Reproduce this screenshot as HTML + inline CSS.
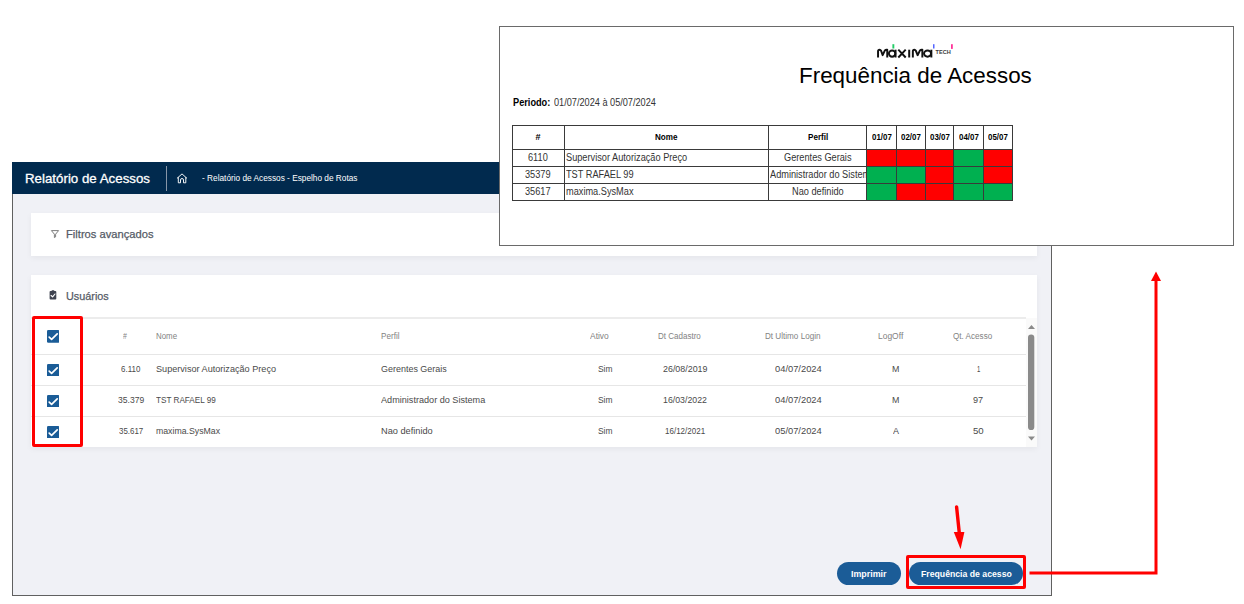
<!DOCTYPE html>
<html><head><meta charset="utf-8"><style>
html,body{margin:0;padding:0;}
body{width:1244px;height:604px;position:relative;overflow:hidden;background:#fff;font-family:"Liberation Sans",sans-serif;}
.t{position:absolute;white-space:nowrap;line-height:1;transform-origin:0 0;}
.b{position:absolute;box-sizing:border-box;}
</style></head><body>
<div class="b" style="left:12px;top:162px;width:1040px;height:434px;background:#f0f1f6;border:1px solid #606060;border-top:none;"></div>
<div class="b" style="left:12px;top:162px;width:1040px;height:32px;background:#012a4e;"></div>
<span class="t" style="left:25.00px;top:170.60px;font-size:14px;color:#fff;transform:scale(0.9505,0.9400);transform-origin:0 12px;-webkit-text-stroke:0.3px #fff;">Relatório de Acessos</span>
<div class="b" style="left:166px;top:166px;width:1px;height:25px;background:#8796a8;"></div>
<svg style="position:absolute;left:176px;top:172px" width="12" height="12" viewBox="0 0 12 12"><path d="M1 6.4 L6 1.9 L11 6.4 M2.3 5.2 V10.8 H4.5 V8 A1.5 1.5 0 0 1 7.5 8 V10.8 H9.8 V5.2" fill="none" stroke="#fff" stroke-width="0.95" stroke-linejoin="round"/></svg>
<span class="t" style="left:201.60px;top:173.90px;font-size:9px;color:#fff;transform:scaleX(0.9196);">- Relatório de Acessos - Espelho de Rotas</span>
<div class="b" style="left:31px;top:213px;width:1006px;height:43px;background:#fff;box-shadow:0 2px 6px rgba(0,0,0,0.05);"></div>
<svg style="position:absolute;left:45px;top:222px" width="20" height="20" viewBox="45 222 20 20"><path d="M51.4 230.6 H58.6 L55.6 234.2 V236.9 L54.4 237.6 V234.2 Z" fill="none" stroke="#777" stroke-width="0.95" stroke-linejoin="round"/></svg>
<span class="t" style="left:65.50px;top:228.90px;font-size:11.5px;color:#555b66;transform:scaleX(0.9709);-webkit-text-stroke:0.25px #555b66;">Filtros avançados</span>
<div class="b" style="left:31px;top:275px;width:1006px;height:172px;background:#fff;box-shadow:0 2px 6px rgba(0,0,0,0.05);"></div>
<svg style="position:absolute;left:49px;top:290px" width="9" height="10" viewBox="0 0 9 10"><rect x="0.6" y="1" width="6.7" height="8.5" rx="0.9" fill="#3f4350"/><rect x="2.6" y="0.2" width="2.7" height="1.6" rx="0.5" fill="#3f4350"/><path d="M2.1 5.5 L3.6 6.9 L6 4" fill="none" stroke="#fff" stroke-width="1.15" stroke-linecap="round" stroke-linejoin="round"/></svg>
<span class="t" style="left:65.50px;top:290.50px;font-size:11.5px;color:#555b66;transform:scaleX(0.9421);-webkit-text-stroke:0.25px #555b66;">Usuários</span>
<div class="b" style="left:31px;top:317px;width:995px;height:2px;background:#ececec;"></div>
<div class="b" style="left:31px;top:354px;width:995px;height:1px;background:#e6e6e6;"></div>
<div class="b" style="left:31px;top:385px;width:995px;height:1px;background:#e6e6e6;"></div>
<div class="b" style="left:31px;top:416px;width:995px;height:1px;background:#e6e6e6;"></div>
<svg style="position:absolute;left:46.9px;top:330.1px" width="12.5" height="12.8" viewBox="0 0 12.5 12.8"><rect x="0" y="0" width="12.5" height="12.8" rx="1.3" fill="#1a5c97"/><path d="M2.2 7.2 L4.6 9.4 L10.2 3.8" fill="none" stroke="#fff" stroke-width="1.7" stroke-linecap="round" stroke-linejoin="round"/></svg>
<svg style="position:absolute;left:46.9px;top:363.6px" width="12.5" height="12.8" viewBox="0 0 12.5 12.8"><rect x="0" y="0" width="12.5" height="12.8" rx="1.3" fill="#1a5c97"/><path d="M2.2 7.2 L4.6 9.4 L10.2 3.8" fill="none" stroke="#fff" stroke-width="1.7" stroke-linecap="round" stroke-linejoin="round"/></svg>
<svg style="position:absolute;left:46.9px;top:394.6px" width="12.5" height="12.8" viewBox="0 0 12.5 12.8"><rect x="0" y="0" width="12.5" height="12.8" rx="1.3" fill="#1a5c97"/><path d="M2.2 7.2 L4.6 9.4 L10.2 3.8" fill="none" stroke="#fff" stroke-width="1.7" stroke-linecap="round" stroke-linejoin="round"/></svg>
<svg style="position:absolute;left:46.9px;top:425.6px" width="12.5" height="12.8" viewBox="0 0 12.5 12.8"><rect x="0" y="0" width="12.5" height="12.8" rx="1.3" fill="#1a5c97"/><path d="M2.2 7.2 L4.6 9.4 L10.2 3.8" fill="none" stroke="#fff" stroke-width="1.7" stroke-linecap="round" stroke-linejoin="round"/></svg>
<span class="t" style="left:122.90px;top:331.90px;font-size:8.5px;color:#828282;transform:scaleX(0.8252);">#</span>
<span class="t" style="left:155.80px;top:331.90px;font-size:8.5px;color:#828282;transform:scaleX(0.9304);">Nome</span>
<span class="t" style="left:380.50px;top:331.90px;font-size:8.5px;color:#828282;transform:scaleX(0.9554);">Perfil</span>
<span class="t" style="left:589.75px;top:331.90px;font-size:8.5px;color:#828282;transform:scaleX(0.9923);">Ativo</span>
<span class="t" style="left:657.50px;top:331.90px;font-size:8.5px;color:#828282;transform:scaleX(0.9427);">Dt Cadastro</span>
<span class="t" style="left:765.25px;top:331.90px;font-size:8.5px;color:#828282;transform:scaleX(0.9552);">Dt Ultimo Login</span>
<span class="t" style="left:877.50px;top:331.90px;font-size:8.5px;color:#828282;transform:scaleX(0.9948);">LogOff</span>
<span class="t" style="left:952.80px;top:331.90px;font-size:8.5px;color:#828282;transform:scaleX(0.9538);">Qt. Acesso</span>
<span class="t" style="left:120.90px;top:364.40px;font-size:9.5px;color:#4a4a4a;transform:scaleX(0.8367);">6.110</span>
<span class="t" style="left:155.80px;top:364.40px;font-size:9.5px;color:#4a4a4a;transform:scaleX(0.9589);">Supervisor Autorização Preço</span>
<span class="t" style="left:380.50px;top:364.40px;font-size:9.5px;color:#4a4a4a;transform:scaleX(0.9434);">Gerentes Gerais</span>
<span class="t" style="left:597.75px;top:364.40px;font-size:9.5px;color:#4a4a4a;transform:scaleX(0.8864);">Sim</span>
<span class="t" style="left:662.50px;top:364.40px;font-size:9.5px;color:#4a4a4a;transform:scaleX(0.9359);">26/08/2019</span>
<span class="t" style="left:775.25px;top:364.40px;font-size:9.5px;color:#4a4a4a;transform:scaleX(0.9832);">04/07/2024</span>
<span class="t" style="left:892.40px;top:364.40px;font-size:9.5px;color:#4a4a4a;transform:scaleX(0.9351);">M</span>
<span class="t" style="left:977.00px;top:364.40px;font-size:9.5px;color:#4a4a4a;transform:scaleX(0.6248);">1</span>
<span class="t" style="left:117.90px;top:395.40px;font-size:9.5px;color:#4a4a4a;transform:scaleX(0.9016);">35.379</span>
<span class="t" style="left:155.80px;top:395.40px;font-size:9.5px;color:#4a4a4a;transform:scaleX(0.8581);">TST RAFAEL 99</span>
<span class="t" style="left:380.50px;top:395.40px;font-size:9.5px;color:#4a4a4a;transform:scaleX(0.9584);">Administrador do Sistema</span>
<span class="t" style="left:597.75px;top:395.40px;font-size:9.5px;color:#4a4a4a;transform:scaleX(0.8864);">Sim</span>
<span class="t" style="left:662.70px;top:395.40px;font-size:9.5px;color:#4a4a4a;transform:scaleX(0.9233);">16/03/2022</span>
<span class="t" style="left:775.25px;top:395.40px;font-size:9.5px;color:#4a4a4a;transform:scaleX(0.9832);">04/07/2024</span>
<span class="t" style="left:892.40px;top:395.40px;font-size:9.5px;color:#4a4a4a;transform:scaleX(0.9351);">M</span>
<span class="t" style="left:973.20px;top:395.40px;font-size:9.5px;color:#4a4a4a;transform:scaleX(0.9561);">97</span>
<span class="t" style="left:118.50px;top:426.40px;font-size:9.5px;color:#4a4a4a;transform:scaleX(0.8327);">35.617</span>
<span class="t" style="left:155.80px;top:426.40px;font-size:9.5px;color:#4a4a4a;transform:scaleX(0.9185);">maxima.SysMax</span>
<span class="t" style="left:380.50px;top:426.40px;font-size:9.5px;color:#4a4a4a;transform:scaleX(0.9701);">Nao definido</span>
<span class="t" style="left:597.75px;top:426.40px;font-size:9.5px;color:#4a4a4a;transform:scaleX(0.8864);">Sim</span>
<span class="t" style="left:664.80px;top:426.40px;font-size:9.5px;color:#4a4a4a;transform:scaleX(0.8434);">16/12/2021</span>
<span class="t" style="left:775.25px;top:426.40px;font-size:9.5px;color:#4a4a4a;transform:scaleX(0.9832);">05/07/2024</span>
<span class="t" style="left:893.10px;top:426.40px;font-size:9.5px;color:#4a4a4a;transform:scaleX(0.9469);">A</span>
<span class="t" style="left:972.90px;top:426.40px;font-size:9.5px;color:#4a4a4a;transform:scaleX(1.0129);">50</span>
<div class="b" style="left:1026px;top:318px;width:11px;height:129px;background:#fafafa;"></div>
<svg style="position:absolute;left:1026px;top:322px" width="11" height="124" viewBox="0 0 11 124"><path d="M2 7 L5.5 3 L9 7 Z" fill="#8a8a8a"/><rect x="2" y="12.5" width="6.3" height="95.5" rx="3.1" fill="#8a8a8a"/><path d="M2 114.4 L9 114.4 L5.5 118.6 Z" fill="#8a8a8a"/></svg>
<div class="b" style="left:32px;top:316px;width:51px;height:131px;border:3px solid #f00;border-radius:2px;"></div>
<div class="b" style="left:837px;top:562px;width:64px;height:23px;background:#1b5c97;border-radius:12px;"></div>
<div class="b" style="left:908.5px;top:562px;width:114px;height:23px;background:#1b5c97;border-radius:12px;"></div>
<span class="t" style="left:851.40px;top:569.10px;font-size:10px;font-weight:bold;color:#fff;transform:scale(0.8873,0.9000);transform-origin:0 8px;">Imprimir</span>
<span class="t" style="left:920.50px;top:569.10px;font-size:10px;font-weight:bold;color:#fff;transform:scale(0.8690,0.9000);transform-origin:0 8px;">Frequência de acesso</span>
<div class="b" style="left:906px;top:555px;width:120px;height:34px;border:3px solid #f00;border-radius:2px;"></div>
<svg style="position:absolute;left:0;top:0" width="1244" height="604" viewBox="0 0 1244 604"><path d="M956.6 507 L959.4 534" stroke="#f00" stroke-width="3.4" stroke-linecap="round" fill="none"/><path d="M953.8 532 L964.4 532 L960.6 549.2 Z" fill="#f00"/><path d="M1029.5 573 H1156 V280" stroke="#f00" stroke-width="3" fill="none"/><path d="M1151 281 L1161 281 L1156 271.4 Z" fill="#f00"/></svg>
<div class="b" style="left:499px;top:26px;width:735px;height:220px;background:#fff;border:1px solid #6a6a6a;"></div>
<svg style="position:absolute;left:870px;top:40px" width="90" height="22" viewBox="870 40 90 22"><path d="M878.05 57.5 V51.3 Q878.05 49.7 879.60 49.7 Q880.50 49.7 881.10 50.8 L882.65 55.2 L884.90 50.4 Q885.60 49.7 886.50 49.7 H887.25 V57.5" fill="none" stroke="#111" stroke-width="1.95" stroke-linejoin="round"/><ellipse cx="892.10" cy="53.6" rx="3.20" ry="3.1" fill="none" stroke="#111" stroke-width="1.95"/><path d="M895.55 49.7 V57.5" stroke="#111" stroke-width="1.95"/><path d="M898.3 49.7 L905.7 57.5 M905.7 49.7 L898.3 57.5" stroke="#111" stroke-width="1.95"/><path d="M909.2 49.7 V57.5" stroke="#111" stroke-width="2"/><path d="M912.85 57.5 V51.3 Q912.85 49.7 914.40 49.7 Q915.30 49.7 915.90 50.8 L917.60 55.2 L920.00 50.4 Q920.70 49.7 921.60 49.7 H922.35 V57.5" fill="none" stroke="#111" stroke-width="1.95" stroke-linejoin="round"/><ellipse cx="927.55" cy="53.6" rx="3.55" ry="3.1" fill="none" stroke="#111" stroke-width="1.95"/><path d="M931.35 49.7 V57.5" stroke="#111" stroke-width="1.95"/><text x="935.5" y="53.7" font-family="Liberation Sans" font-weight="bold" font-size="5.4" textLength="15.2" lengthAdjust="spacingAndGlyphs" fill="#3a3a3a">TECH</text><rect x="892.4" y="44.2" width="1.9" height="4.3" fill="#22cc66"/><rect x="933" y="44.2" width="1.5" height="4.3" fill="#5566ff"/><rect x="951" y="44.2" width="1.8" height="4.7" fill="#ff3399"/></svg>
<span class="t" style="left:799.00px;top:64.60px;font-size:22px;color:#000;transform:scaleX(1.0180);">Frequência de Acessos</span>
<span class="t" style="left:513.00px;top:97.70px;font-size:10px;font-weight:bold;color:#000;transform:scaleX(0.9196);">Periodo:</span>
<span class="t" style="left:553.60px;top:97.70px;font-size:10px;color:#333;transform:scaleX(0.9162);">01/07/2024 à 05/07/2024</span>
<div class="b" style="left:866px;top:149px;width:30px;height:17px;background:#ff0000;"></div>
<div class="b" style="left:896px;top:149px;width:29px;height:17px;background:#ff0000;"></div>
<div class="b" style="left:925px;top:149px;width:28px;height:17px;background:#ff0000;"></div>
<div class="b" style="left:953px;top:149px;width:30px;height:17px;background:#00b050;"></div>
<div class="b" style="left:983px;top:149px;width:29px;height:17px;background:#ff0000;"></div>
<div class="b" style="left:866px;top:166px;width:30px;height:17px;background:#00b050;"></div>
<div class="b" style="left:896px;top:166px;width:29px;height:17px;background:#00b050;"></div>
<div class="b" style="left:925px;top:166px;width:28px;height:17px;background:#ff0000;"></div>
<div class="b" style="left:953px;top:166px;width:30px;height:17px;background:#00b050;"></div>
<div class="b" style="left:983px;top:166px;width:29px;height:17px;background:#ff0000;"></div>
<div class="b" style="left:866px;top:183px;width:30px;height:17px;background:#00b050;"></div>
<div class="b" style="left:896px;top:183px;width:29px;height:17px;background:#ff0000;"></div>
<div class="b" style="left:925px;top:183px;width:28px;height:17px;background:#ff0000;"></div>
<div class="b" style="left:953px;top:183px;width:30px;height:17px;background:#00b050;"></div>
<div class="b" style="left:983px;top:183px;width:29px;height:17px;background:#00b050;"></div>
<div class="b" style="left:512px;top:125px;width:1px;height:76px;background:#3a3a3a;"></div>
<div class="b" style="left:564px;top:125px;width:1px;height:76px;background:#3a3a3a;"></div>
<div class="b" style="left:768px;top:125px;width:1px;height:76px;background:#3a3a3a;"></div>
<div class="b" style="left:866px;top:125px;width:1px;height:76px;background:#3a3a3a;"></div>
<div class="b" style="left:896px;top:125px;width:1px;height:76px;background:#3a3a3a;"></div>
<div class="b" style="left:925px;top:125px;width:1px;height:76px;background:#3a3a3a;"></div>
<div class="b" style="left:953px;top:125px;width:1px;height:76px;background:#3a3a3a;"></div>
<div class="b" style="left:983px;top:125px;width:1px;height:76px;background:#3a3a3a;"></div>
<div class="b" style="left:1012px;top:125px;width:1px;height:76px;background:#3a3a3a;"></div>
<div class="b" style="left:512px;top:125px;width:501px;height:1px;background:#3a3a3a;"></div>
<div class="b" style="left:512px;top:149px;width:501px;height:1px;background:#3a3a3a;"></div>
<div class="b" style="left:512px;top:166px;width:501px;height:1px;background:#3a3a3a;"></div>
<div class="b" style="left:512px;top:183px;width:501px;height:1px;background:#3a3a3a;"></div>
<div class="b" style="left:512px;top:200px;width:501px;height:1px;background:#3a3a3a;"></div>
<span class="t" style="left:535.50px;top:133.00px;font-size:9px;font-weight:bold;color:#000;">#</span>
<span class="t" style="left:655.00px;top:133.00px;font-size:9px;font-weight:bold;color:#000;transform:scaleX(0.8999);">Nome</span>
<span class="t" style="left:807.80px;top:133.00px;font-size:9px;font-weight:bold;color:#000;transform:scaleX(0.8974);">Perfil</span>
<span class="t" style="left:871.60px;top:133.00px;font-size:9px;font-weight:bold;color:#000;transform:scaleX(0.8793);">01/07</span>
<span class="t" style="left:901.10px;top:133.00px;font-size:9px;font-weight:bold;color:#000;transform:scaleX(0.8793);">02/07</span>
<span class="t" style="left:929.60px;top:133.00px;font-size:9px;font-weight:bold;color:#000;transform:scaleX(0.8793);">03/07</span>
<span class="t" style="left:958.60px;top:133.00px;font-size:9px;font-weight:bold;color:#000;transform:scaleX(0.8793);">04/07</span>
<span class="t" style="left:988.10px;top:133.00px;font-size:9px;font-weight:bold;color:#000;transform:scaleX(0.8793);">05/07</span>
<span class="t" style="left:528.31px;top:153.10px;font-size:10px;color:#333;transform:scaleX(0.9200);">6110</span>
<span class="t" style="left:565.75px;top:153.10px;font-size:10px;color:#333;transform:scaleX(0.9200);">Supervisor Autorização Preço</span>
<span class="t" style="left:783.85px;top:153.10px;font-size:10px;color:#333;transform:scaleX(0.9200);">Gerentes Gerais</span>
<span class="t" style="left:525.41px;top:170.00px;font-size:10px;color:#333;transform:scaleX(0.9200);">35379</span>
<span class="t" style="left:565.75px;top:170.00px;font-size:10px;color:#333;transform:scaleX(0.9200);">TST RAFAEL 99</span>
<div style="position:absolute;left:769px;top:167px;width:97px;height:16px;overflow:hidden;"><span class="t" style="left:0.60px;top:3.00px;font-size:10px;color:#333;transform:scaleX(0.9200);">Administrador do Sistema</span>
</div>
<span class="t" style="left:525.41px;top:186.90px;font-size:10px;color:#333;transform:scaleX(0.9200);">35617</span>
<span class="t" style="left:565.75px;top:186.90px;font-size:10px;color:#333;transform:scaleX(0.9200);">maxima.SysMax</span>
<span class="t" style="left:791.77px;top:186.90px;font-size:10px;color:#333;transform:scaleX(0.9200);">Nao definido</span>
</body></html>
